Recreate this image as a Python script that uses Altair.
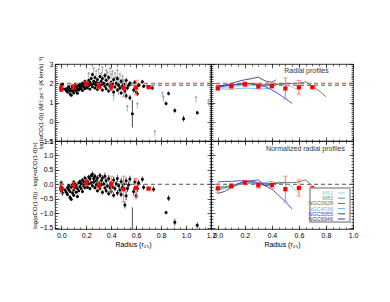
import altair as alt
import pandas as pd

FONT = "Liberation Sans"

# ---------------- individual measurements (top-left) ----------------
pt_r = [0.00,0.00,0.00,0.01,0.01,0.03,0.04,0.05,0.05,0.06,0.06,0.07,0.07,0.08,0.08,0.09,0.09,0.10,0.10,0.10,
        0.11,0.11,0.12,0.12,0.13,0.13,0.14,0.14,0.15,0.15,0.16,0.16,0.17,0.17,0.18,0.18,0.19,0.19,0.20,0.20,
        0.21,0.21,0.22,0.22,0.23,0.23,0.24,0.24,0.25,0.25,0.26,0.26,0.27,0.27,0.28,0.28,0.29,0.29,0.30,0.30,
        0.31,0.31,0.32,0.32,0.33,0.33,0.34,0.35,0.35,0.36,0.36,0.37,0.38,0.38,0.39,0.40,0.40,0.41,0.42,0.42,
        0.43,0.44,0.45,0.45,0.46,0.47,0.48,0.48,0.49,0.50,0.51,0.52,0.52,0.53,0.54,0.55,0.55,0.57,0.58,0.59,
        0.60,0.61,0.62,0.65,0.66,0.73,0.84,0.86,0.91,0.98,1.09]
pt_a = [1.62,1.75,1.88,1.70,1.95,1.70,1.62,1.75,1.55,1.68,1.80,1.45,1.62,1.72,1.38,1.58,1.85,1.65,1.78,1.50,
        1.70,1.92,1.60,1.82,1.72,1.48,1.88,1.65,1.78,1.95,1.70,1.85,1.62,2.00,1.80,1.92,1.72,2.10,1.85,2.02,
        1.75,1.95,2.15,1.88,2.05,1.70,2.25,1.95,2.45,1.82,2.10,1.98,2.30,1.75,2.05,1.90,2.20,1.68,2.00,1.85,
        2.35,1.78,2.10,1.92,1.65,2.25,2.00,1.85,2.40,1.72,2.15,1.95,1.60,2.30,1.85,2.05,1.70,1.95,2.20,1.55,
        1.80,2.00,1.65,2.25,1.90,1.75,2.10,1.50,1.85,1.95,1.60,2.15,1.35,1.75,1.90,1.25,2.00,0.42,1.65,2.05,
        1.55,1.45,1.90,2.08,1.85,1.75,0.95,1.47,0.58,0.16,0.47]
pt_e = [0.08,0.06,0.07,0.10,0.08,0.05,0.06,0.05,0.06,0.05,0.06,0.07,0.05,0.05,0.06,0.05,0.06,0.05,0.07,0.06,
        0.05,0.06,0.05,0.05,0.05,0.06,0.06,0.05,0.05,0.07,0.05,0.06,0.06,0.07,0.06,0.05,0.05,0.08,0.06,0.07,
        0.05,0.06,0.08,0.06,0.07,0.06,0.09,0.06,0.10,0.06,0.08,0.07,0.10,0.06,0.08,0.06,0.09,0.07,0.08,0.06,
        0.10,0.07,0.09,0.07,0.08,0.10,0.08,0.07,0.12,0.08,0.10,0.08,0.09,0.12,0.08,0.10,0.08,0.09,0.12,0.10,
        0.09,0.10,0.10,0.12,0.10,0.10,0.12,0.10,0.10,0.12,0.12,0.12,0.15,0.12,0.12,0.15,0.12,0.72,0.14,0.12,
        0.12,0.12,0.10,0.10,0.10,0.10,0.10,0.10,0.12,0.15,0.10]

# limits (grey arrows, top-left)
lim_r = [0.22,0.26,0.28,0.30,0.32,0.33,0.35,0.36,0.37,0.38,0.39,0.40,0.41,0.42,0.43,0.44,
         0.45,0.46,0.47,0.48,0.49,0.50,0.42,0.46,0.51,0.53,0.61,0.75,0.81,0.82,1.08,1.18]
lim_a = [2.30,2.55,2.40,2.50,2.30,2.60,2.20,2.45,2.35,2.10,2.55,2.25,2.40,1.95,2.30,2.10,
         2.45,2.00,2.25,1.90,2.15,1.80,1.15,1.45,1.60,0.58,0.72,-0.72,1.28,1.08,1.05,0.88]

# ---------------- normalized measurements (bottom-left) ----------------
nm_r = [0.00,0.00,0.00,0.01,0.01,0.03,0.04,0.05,0.05,0.06,0.06,0.07,0.07,0.08,0.08,0.09,0.09,0.10,0.10,0.10,
        0.11,0.11,0.12,0.12,0.13,0.13,0.14,0.14,0.15,0.15,0.16,0.16,0.17,0.17,0.18,0.18,0.19,0.19,0.20,0.20,
        0.21,0.21,0.22,0.22,0.23,0.23,0.24,0.24,0.25,0.25,0.26,0.26,0.27,0.27,0.28,0.28,0.29,0.29,0.30,0.30,
        0.31,0.31,0.32,0.32,0.33,0.33,0.34,0.35,0.35,0.36,0.36,0.37,0.38,0.38,0.39,0.40,0.40,0.41,0.42,0.42,
        0.43,0.44,0.45,0.45,0.46,0.47,0.48,0.48,0.49,0.50,0.51,0.52,0.52,0.53,0.54,0.55,0.57,0.58,0.59,0.60,
        0.61,0.62,0.65,0.66,0.74,0.84,0.86,0.91,1.09]
nm_a = [-0.22,-0.08,0.05,-0.30,-0.15,-0.20,-0.28,-0.12,-0.35,-0.18,-0.05,-0.45,-0.25,-0.10,-0.52,-0.30,-0.02,-0.20,0.08,-0.38,
        -0.12,0.02,-0.28,-0.05,-0.15,-0.42,0.05,-0.22,-0.08,0.10,-0.15,0.02,-0.25,0.15,-0.05,0.08,-0.12,0.22,0.00,0.15,
        -0.10,0.10,0.25,0.02,0.18,-0.15,0.30,0.05,0.35,-0.05,0.20,0.08,0.28,-0.12,0.12,-0.02,0.22,-0.22,0.05,-0.08,
        0.30,-0.15,0.12,-0.02,-0.28,0.22,0.02,-0.12,0.28,-0.22,0.12,-0.05,-0.32,0.20,-0.12,0.05,-0.25,-0.08,0.15,-0.38,
        -0.15,0.02,-0.30,0.20,-0.05,-0.20,0.10,-0.35,-0.10,0.00,-0.72,0.12,-0.40,-0.15,-0.02,0.18,-1.80,-0.25,0.08,-0.40,
        -0.15,0.05,0.17,-0.10,-0.17,-0.98,-0.48,-1.32,-1.42]
nm_e = [0.08,0.07,0.08,0.10,0.08,0.05,0.06,0.05,0.06,0.05,0.06,0.07,0.05,0.05,0.06,0.05,0.06,0.05,0.07,0.06,
        0.05,0.06,0.05,0.05,0.05,0.06,0.06,0.05,0.05,0.07,0.05,0.06,0.06,0.07,0.06,0.05,0.05,0.08,0.06,0.07,
        0.05,0.06,0.08,0.06,0.07,0.06,0.09,0.06,0.10,0.06,0.08,0.07,0.10,0.06,0.08,0.06,0.09,0.07,0.08,0.06,
        0.10,0.07,0.09,0.07,0.08,0.10,0.08,0.07,0.12,0.08,0.10,0.08,0.09,0.12,0.08,0.10,0.08,0.09,0.12,0.10,
        0.09,0.10,0.10,0.12,0.10,0.10,0.12,0.10,0.10,0.12,0.12,0.12,0.15,0.12,0.12,0.12,1.00,0.14,0.12,0.12,
        0.12,0.10,0.10,0.10,0.10,0.06,0.10,0.12,0.10]

# ---------------- binned means ----------------
bin_r = [0.0, 0.1, 0.2, 0.3, 0.4, 0.5, 0.6, 0.7]
tl_mean = [1.73, 1.82, 1.98, 1.85, 1.84, 1.74, 1.78, 1.80]
tl_merr = [0.13, 0.12, 0.12, 0.15, 0.20, 0.45, 0.37, 0.02]
bl_mean = [-0.14, -0.05, 0.06, -0.03, 0.00, -0.17, -0.13, -0.15]
bl_merr = [0.18, 0.12, 0.10, 0.13, 0.28, 0.45, 0.33, 0.02]
tr_mean = [1.74, 1.84, 1.95, 1.84, 1.86, 1.73, 1.79, 1.79]
tr_merr = [0.10, 0.08, 0.12, 0.12, 0.12, 0.55, 0.35, 0.02]
br_mean = [-0.14, -0.06, 0.06, -0.03, -0.03, -0.17, -0.13, -0.14]
br_merr = [0.15, 0.08, 0.07, 0.10, 0.12, 0.45, 0.28, 0.02]

# reference levels (dashed)
top_levels = [1.9, 2.0]
top_level_colors = ["#555555", "#ff3030"]
bot_levels = [0.0]
bot_level_colors = ["#555555"]

# ---------------- radial profiles ----------------
galaxies = ["M51", "M83", "NGC0628", "NGC4736", "NGC5055", "NGC6946"]
gal_colors = ["#9cc8c8", "#5e9e7e", "#6e6e40", "#64b4f0", "#3c3cf0", "#3a3a8c"]

m51_r = [0.0,0.05,0.1,0.15,0.2,0.25,0.3,0.35,0.4,0.45,0.5,0.55,0.6]
m51_top = [1.80,1.78,1.82,1.86,1.90,1.88,1.85,1.84,1.88,1.95,1.92,1.80,1.65]
m51_norm = [-0.10,-0.08,-0.05,0.00,0.05,0.03,0.00,-0.02,0.02,0.08,0.05,-0.10,-0.30]
m83_r = [0.0,0.05,0.1,0.15,0.2,0.25,0.3,0.35,0.4,0.45,0.5]
m83_top = [1.85,1.88,1.90,1.95,1.98,1.95,1.92,1.88,1.90,1.93,1.95]
m83_norm = [-0.12,-0.08,-0.05,0.02,0.06,0.04,0.00,-0.03,0.00,0.03,0.05]
n0628_r = [0.0,0.05,0.1,0.15,0.2,0.25,0.3,0.35,0.4,0.45,0.5,0.55,0.6,0.65,0.7,0.75,0.8]
n0628_top = [1.86,1.88,1.90,1.93,1.97,1.98,1.96,1.94,1.95,1.97,1.99,1.98,2.00,2.08,1.85,1.60,1.30]
n0628_norm = [-0.15,-0.12,-0.08,-0.02,0.04,0.06,0.04,0.02,0.03,0.05,0.07,0.06,0.08,0.15,-0.05,-0.35,-0.68]
n4736_r = [0.0,0.05,0.1,0.15,0.2,0.25,0.3,0.35,0.4]
n4736_top = [1.72,1.70,1.68,1.72,1.75,1.74,1.70,1.72,1.75]
n4736_norm = [-0.20,-0.15,-0.08,0.00,0.05,0.08,0.05,0.06,0.10]
n5055_r = [0.0,0.05,0.1,0.15,0.2,0.25,0.3,0.35,0.4,0.45,0.5,0.55]
n5055_top = [1.78,1.85,1.90,1.95,2.00,1.98,1.92,1.82,1.65,1.45,1.20,0.95]
n5055_norm = [0.08,0.10,0.10,0.12,0.12,0.10,0.05,-0.05,-0.17,-0.38,-0.60,-0.86]
n6946_r = [0.0,0.05,0.1,0.15,0.2,0.25,0.3,0.35,0.4,0.43]
n6946_top = [1.85,1.90,1.98,2.10,2.18,2.24,2.32,2.12,2.05,2.18]
n6946_norm = [-0.32,-0.25,-0.12,0.02,0.10,0.12,0.15,-0.05,0.00,0.05]

notes_text = ["Radial profiles", "Normalized radial profiles"]
notes_r = [0.82, 0.94]
notes_val = [2.63, 1.23]

# ---------------- helpers ----------------
XL = [-0.05, 1.2]
XR = [-0.05, 1.0]
YT = [-1.0, 3.0]
YB = [-1.55, 1.5]


def rng(a, b, step):
    n = int(round((b - a) / step))
    return [round(a + i * step, 3) for i in range(n + 1)]


def sc(dom):
    return alt.Scale(domain=dom, zero=False, nice=False)


def xe(f, dom):
    return alt.X(f, type="quantitative", scale=sc(dom), axis=None)


def ye(f, dom):
    return alt.Y(f, type="quantitative", scale=sc(dom), axis=None)


def tick_axis(orient, values, size, labels=False, fmt=None, title=None, title_size=7):
    kw = dict(orient=orient, values=values, tickSize=size, offset=-size, domain=False,
              grid=False, labels=labels, tickColor="black", tickWidth=0.6, title=title)
    if labels:
        kw.update(format=fmt, labelFontSize=7, labelPadding=2, labelFlush=False,
                  labelOverlap=False, labelFont=FONT, labelColor="black")
    if title:
        kw.update(titleFontSize=title_size, titlePadding=2, titleFontWeight="normal",
                  titleFont=FONT, titleColor="black")
    return alt.Axis(**kw)


def axis_layers(xdom, ydom, xmaj, xmin, ymaj, ymin, xlab, ylab, yfmt, xtitle, ytitle):
    anchor = pd.DataFrame({"x": [xdom[0]], "y": [ydom[0]]})
    base = alt.Chart(anchor).mark_point(opacity=0)
    out = []
    out.append(base.encode(
        x=alt.X("x:Q", scale=sc(xdom), axis=tick_axis("bottom", xmaj, 4, xlab, ".1f", xtitle if xlab else None)),
        y=alt.Y("y:Q", scale=sc(ydom), axis=tick_axis("left", ymaj, 4, ylab, yfmt, ytitle if ylab else None, 6))))
    out.append(base.encode(
        x=alt.X("x:Q", scale=sc(xdom), axis=tick_axis("bottom", xmin, 2)),
        y=alt.Y("y:Q", scale=sc(ydom), axis=tick_axis("left", ymin, 2))))
    out.append(base.encode(
        x=alt.X("x:Q", scale=sc(xdom), axis=tick_axis("top", xmaj, 4)),
        y=alt.Y("y:Q", scale=sc(ydom), axis=tick_axis("right", ymaj, 4))))
    out.append(base.encode(
        x=alt.X("x:Q", scale=sc(xdom), axis=tick_axis("top", xmin, 2)),
        y=alt.Y("y:Q", scale=sc(ydom), axis=tick_axis("right", ymin, 2))))
    return out


def dashed(levels, colors, ydom):
    out = []
    for lv, c in zip(levels, colors):
        out.append(alt.Chart(pd.DataFrame({"v": [lv]})).mark_rule(
            color=c, strokeDash=[4, 3], strokeWidth=1).encode(y=ye("v", ydom)))
    return out


def means(r, m, e, xdom, ydom):
    df = pd.DataFrame({"r": r, "m": m, "lo": [a - b for a, b in zip(m, e)],
                       "hi": [a + b for a, b in zip(m, e)]})
    c = alt.Chart(df)
    pink = "#ff7070"
    return [
        c.mark_rule(color=pink, strokeWidth=1, clip=True).encode(x=xe("r", xdom), y=ye("lo", ydom), y2="hi"),
        c.mark_tick(color=pink, orient="horizontal", size=5, thickness=1, clip=True).encode(x=xe("r", xdom), y=ye("lo", ydom)),
        c.mark_tick(color=pink, orient="horizontal", size=5, thickness=1, clip=True).encode(x=xe("r", xdom), y=ye("hi", ydom)),
        c.mark_square(color="#ff0000", size=18, opacity=1, clip=True).encode(x=xe("r", xdom), y=ye("m", ydom)),
    ]


def points(r, a, e, xdom, ydom):
    df = pd.DataFrame({"r": r, "a": a, "lo": [p - q for p, q in zip(a, e)],
                       "hi": [p + q for p, q in zip(a, e)]})
    c = alt.Chart(df)
    return [
        c.mark_rule(color="black", strokeWidth=0.7, clip=True).encode(x=xe("r", xdom), y=ye("lo", ydom), y2="hi"),
        c.mark_circle(color="black", size=9, opacity=1, clip=True).encode(x=xe("r", xdom), y=ye("a", ydom)),
    ]


def limits(r, a, xdom, ydom):
    df = pd.DataFrame({"r": r, "lo": [v - 0.05 for v in a], "hi": [v + 0.25 for v in a]})
    c = alt.Chart(df)
    g = "#a0a0a0"
    return [
        c.mark_rule(color=g, strokeWidth=0.8, clip=True).encode(x=xe("r", xdom), y=ye("lo", ydom), y2="hi"),
        c.mark_point(shape="triangle-up", filled=True, color=g, size=8, opacity=1, clip=True).encode(
            x=xe("r", xdom), y=ye("hi", ydom)),
    ]


CSCALE = alt.Scale(domain=galaxies, range=gal_colors)


def profiles(kind, xdom, ydom):
    rows = []
    sets = [("M51", m51_r, m51_top, m51_norm), ("M83", m83_r, m83_top, m83_norm),
            ("NGC0628", n0628_r, n0628_top, n0628_norm), ("NGC4736", n4736_r, n4736_top, n4736_norm),
            ("NGC5055", n5055_r, n5055_top, n5055_norm), ("NGC6946", n6946_r, n6946_top, n6946_norm)]
    for name, r, top, norm in sets:
        vals = top if kind == "top" else norm
        for rr, vv in zip(r, vals):
            rows.append({"gal": name, "r": rr, "v": vv})
    df = pd.DataFrame(rows)
    return [alt.Chart(df).mark_line(strokeWidth=0.9, clip=True).encode(
        x=xe("r", xdom), y=ye("v", ydom), color=alt.Color("gal:N", scale=CSCALE, legend=None),
        detail="gal:N")]


def legend_layers():
    leg_df = pd.DataFrame({"gal": galaxies, "k": list(range(len(galaxies)))})
    ky = alt.Y("k:Q", scale=alt.Scale(domain=[0, 5], range=[52, 78]), axis=None)
    col = alt.Color("gal:N", scale=CSCALE, legend=None)
    frame = alt.Chart(pd.DataFrame({"k": [0]})).mark_rect(
        fill="white", stroke="#999999", strokeWidth=1.5).encode(
        x=alt.value(99), x2=alt.value(139), y=alt.value(47), y2=alt.value(81))
    texts = alt.Chart(leg_df).mark_text(align="right", baseline="middle", fontSize=5.5, font=FONT).encode(
        x=alt.value(122), y=ky, text="gal:N", color=col)
    syms = alt.Chart(leg_df).mark_rule(strokeWidth=1).encode(
        x=alt.value(127), x2=alt.value(134), y=ky, color=col)
    return [frame, texts, syms]


def note(i, xdom, ydom):
    df = pd.DataFrame({"t": [notes_text[i]], "r": [notes_r[i]], "v": [notes_val[i]]})
    return alt.Chart(df).mark_text(align="right", baseline="middle", fontSize=7, font=FONT,
                                   color="#333333").encode(x=xe("r", xdom), y=ye("v", ydom), text="t:N")


XT = "Radius (r₂₅)"
YT_TITLE = "log(αCO(1-0)) (M☉pc⁻² (K km/s)⁻¹)"
YB_TITLE = "log(αCO(1-0)) - log(<αCO(1-0)>)"

xl_maj, xl_min = rng(0, 1.2, 0.2), rng(-0.05, 1.2, 0.05)
xr_maj, xr_min = rng(0, 1.0, 0.2), rng(-0.05, 1.0, 0.05)
yt_maj, yt_min = rng(-1, 3, 1), rng(-1, 3, 0.1)
yb_maj, yb_min = rng(-1.5, 1.5, 0.5), rng(-1.5, 1.5, 0.1)

WL, WR, HT, HB = 156, 142, 77, 88

tl = alt.layer(
    *dashed(top_levels, top_level_colors, YT),
    *limits(lim_r, lim_a, XL, YT),
    *points(pt_r, pt_a, pt_e, XL, YT),
    *means(bin_r, tl_mean, tl_merr, XL, YT),
    *axis_layers(XL, YT, xl_maj, xl_min, yt_maj, yt_min, False, True, "d", None, YT_TITLE),
).resolve_axis(x="independent", y="independent").properties(width=WL, height=HT)

tr = alt.layer(
    *dashed(top_levels, top_level_colors, YT),
    *profiles("top", XR, YT),
    *means(bin_r, tr_mean, tr_merr, XR, YT),
    note(0, XR, YT),
    *axis_layers(XR, YT, xr_maj, xr_min, yt_maj, yt_min, False, False, "d", None, None),
).resolve_axis(x="independent", y="independent").properties(width=WR, height=HT)

bl = alt.layer(
    *dashed(bot_levels, bot_level_colors, YB),
    *points(nm_r, nm_a, nm_e, XL, YB),
    *means(bin_r, bl_mean, bl_merr, XL, YB),
    *axis_layers(XL, YB, xl_maj, xl_min, yb_maj, yb_min, True, True, ".1f", XT, YB_TITLE),
).resolve_axis(x="independent", y="independent").properties(width=WL, height=HB)

br = alt.layer(
    *dashed(bot_levels, bot_level_colors, YB),
    *profiles("norm", XR, YB),
    *means(bin_r, br_mean, br_merr, XR, YB),
    note(1, XR, YB),
    *legend_layers(),
    *axis_layers(XR, YB, xr_maj, xr_min, yb_maj, yb_min, True, False, ".1f", XT, None),
).resolve_scale(y="independent").resolve_axis(x="independent", y="independent") \
 .properties(width=WR, height=HB)

chart = alt.concat(tl, tr, bl, br, columns=2, spacing=0, bounds="flush", align="each") \
    .resolve_scale(color="independent") \
    .properties(padding={"left": 22, "top": 48, "right": 5, "bottom": 5}) \
    .configure(font=FONT) \
    .configure_view(stroke="black", strokeWidth=0.8)

chart.save("out.html", embed_options={"renderer": "svg", "actions": False})
